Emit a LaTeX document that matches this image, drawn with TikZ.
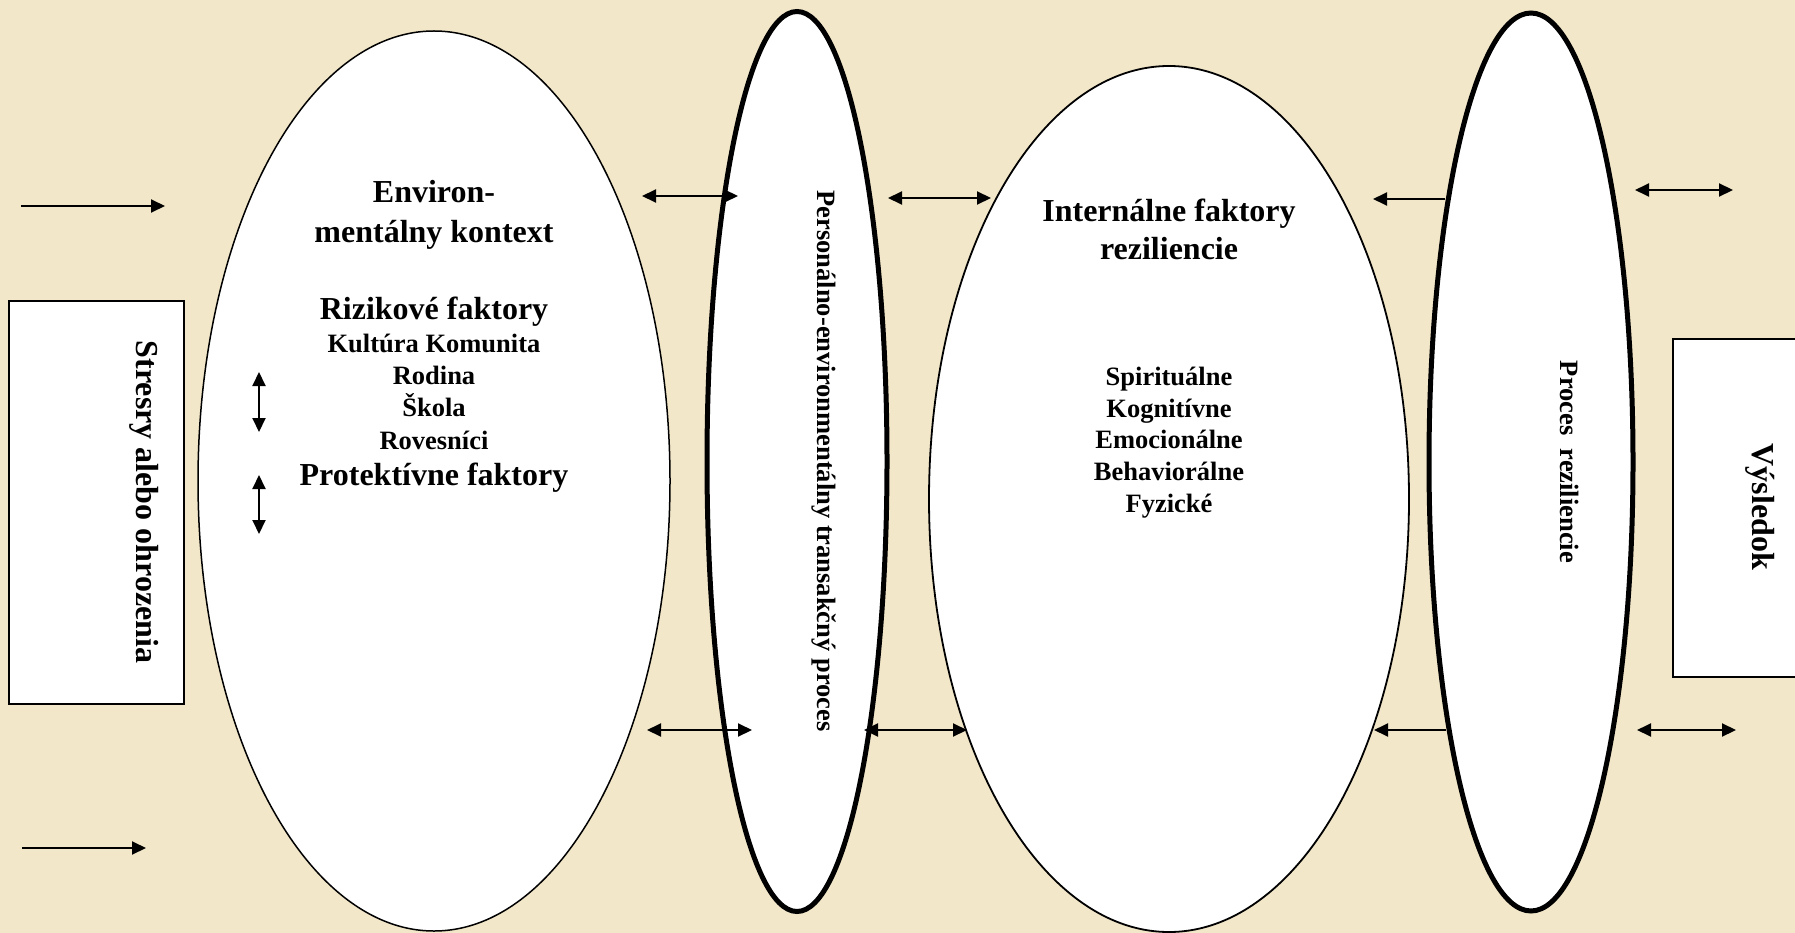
\documentclass[tikz,border=0pt]{standalone}
\usepackage{fontspec}
\setmainfont{Liberation Serif}
\usetikzlibrary{shapes.geometric,arrows.meta}
\definecolor{bgbeige}{RGB}{243,231,202}
\tikzset{
  bigtxt/.style={font=\fontsize{32}{38}\selectfont\bfseries, inner sep=0pt, anchor=base},
  smalltxt/.style={font=\fontsize{26.5}{32}\selectfont\bfseries, inner sep=0pt, anchor=base},
  vbig/.style={font=\fontsize{32}{38}\selectfont\bfseries, inner sep=0pt, anchor=center, rotate=-90},
  vsmall/.style={font=\fontsize{26.5}{32}\selectfont\bfseries, inner sep=0pt, anchor=center, rotate=-90},
  oval/.style={ellipse, draw=black, fill=white, inner sep=0pt},
  rbox/.style={draw=black, fill=white, line width=1.8pt, inner sep=0pt},
  arr/.style={line width=2pt, -{Triangle[length=14pt,width=13pt]}},
  darr/.style={line width=2pt, {Triangle[length=14pt,width=13pt]}-{Triangle[length=14pt,width=13pt]}},
}
\begin{document}
\begin{tikzpicture}[x=1pt,y=-1pt]
\useasboundingbox (0,0) rectangle (1795,933);
\fill[bgbeige] (0,0) rectangle (1795,933);

% boxes
\node[rbox, minimum width=175pt, minimum height=403pt] (stres) at (96.5,502.5) {};
\node[rbox, minimum width=140pt, minimum height=338pt] (vysl) at (1743,508) {};

% ellipses
\node[oval, line width=1.5pt, minimum width=472pt, minimum height=900pt] (e1) at (434,481) {};
\node[oval, line width=5pt, minimum width=180pt, minimum height=900pt] (e2) at (797,461.5) {};
\node[oval, line width=1.8pt, minimum width=480pt, minimum height=866pt] (e3) at (1169,499) {};
\node[oval, line width=5pt, minimum width=204pt, minimum height=898pt] (e4) at (1531,462) {};

% rotated texts
\node[vbig] (tstres) at (144,502) {Stresry alebo ohrozenia};
\node[vbig] (tvysl) at (1760,507) {Výsledok};
\node[vsmall] (tpers) at (824,461) {Personálno-environmentálny transakčný proces};
\node[vsmall] (tproc) at (1570,462) {Proces\ \ reziliencie};

% texts in e1
\node[bigtxt] (t1a) at (434,203) {Environ-};
\node[bigtxt] (t1b) at (434,243) {mentálny kontext};
\node[bigtxt] (t1c) at (434,319) {Rizikové faktory};
\node[smalltxt] (t1d) at (434,352) {Kultúra Komunita};
\node[smalltxt] (t1e) at (434,384) {Rodina};
\node[smalltxt] (t1f) at (434,416) {Škola};
\node[smalltxt] (t1g) at (434,449) {Rovesníci};
\node[bigtxt] (t1h) at (434,485) {Protektívne faktory};

% texts in e3
\node[bigtxt] (t3a) at (1169,222) {Internálne faktory};
\node[bigtxt] (t3b) at (1169,260) {reziliencie};
\node[smalltxt] (t3c) at (1169,385) {Spirituálne};
\node[smalltxt] (t3d) at (1169,417) {Kognitívne};
\node[smalltxt] (t3e) at (1169,448) {Emocionálne};
\node[smalltxt] (t3f) at (1169,480) {Behaviorálne};
\node[smalltxt] (t3g) at (1169,512) {Fyzické};

% arrow end coordinates
\coordinate (a1s) at (21,206);   \coordinate (a1e) at (165,206);
\coordinate (a2s) at (22,848);   \coordinate (a2e) at (146,848);
\coordinate (v1s) at (259,372);  \coordinate (v1e) at (259,432);
\coordinate (v2s) at (259,475);  \coordinate (v2e) at (259,534);
\coordinate (b1s) at (642,196);  \coordinate (b1e) at (738,196);
\coordinate (b2s) at (647,730);  \coordinate (b2e) at (752,730);
\coordinate (c1s) at (888,198);  \coordinate (c1e) at (991,198);
\coordinate (c2s) at (864,730);  \coordinate (c2e) at (967,730);
\coordinate (d1s) at (1445,199); \coordinate (d1e) at (1373,199);
\coordinate (d2s) at (1446,730); \coordinate (d2e) at (1374,730);
\coordinate (f1s) at (1635,190); \coordinate (f1e) at (1733,190);
\coordinate (f2s) at (1637,730); \coordinate (f2e) at (1736,730);

% arrows
\draw[arr] (a1s) -- (a1e);
\draw[arr] (a2s) -- (a2e);
\draw[darr] (v1s) -- (v1e);
\draw[darr] (v2s) -- (v2e);
\draw[darr] (b1s) -- (b1e);
\draw[darr] (b2s) -- (b2e);
\draw[darr] (c1s) -- (c1e);
\draw[darr] (c2s) -- (c2e);
\draw[arr] (d1s) -- (d1e);
\draw[arr] (d2s) -- (d2e);
\draw[darr] (f1s) -- (f1e);
\draw[darr] (f2s) -- (f2e);
\end{tikzpicture}
\end{document}
